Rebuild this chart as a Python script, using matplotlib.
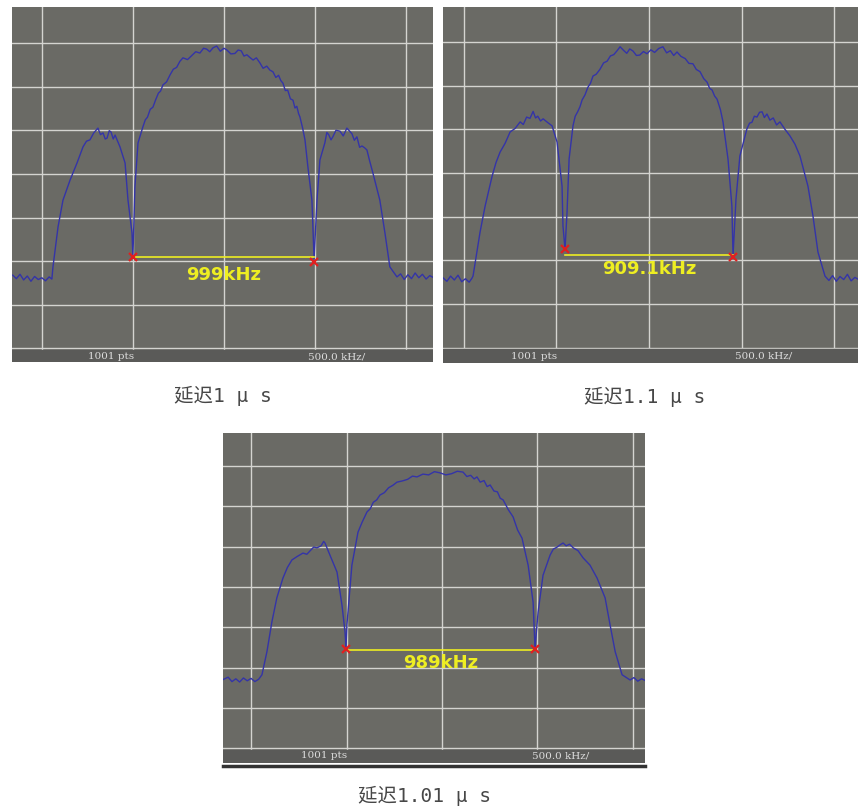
import matplotlib.pyplot as plt

# spectrum traces, frequency offset (kHz) vs level (dB)
tl_freq = [-1160, -1140, -1120, -1100, -1080, -1060, -1040, -1020, -1000, -980,
           -960, -945, -939, -911, -884, -845, -807, -774, -755, -736,
           -715, -692, -678, -664, -652, -642, -630, -620, -608, -598,
           -585, -571, -543, -527, -505, -500, -489, -472, -445, -432,
           -420, -405, -390, -375, -360, -348, -335, -315, -296, -278,
           -260, -242, -225, -200, -180, -155, -132, -112, -95, -78,
           -60, -40, -20, 0, 16, 38, 60, 78, 95, 110,
           126, 142, 160, 178, 198, 215, 235, 252, 269, 285,
           300, 312, 324, 337, 350, 365, 379, 390, 400, 410,
           417, 432, 445, 461, 483, 495, 511, 527, 554, 565,
           575, 588, 598, 615, 637, 655, 675, 690, 703, 716,
           730, 745, 758, 772, 785, 800, 818, 856, 884, 911,
           950, 970, 990, 1010, 1030, 1050, 1070, 1090, 1110, 1130,
           1148]
tl_level = [-63.2, -64.0, -63.0, -64.3, -63.4, -64.6, -63.5, -64.2, -63.8, -64.5,
            -63.6, -64.1, -61.3, -52.1, -46.0, -41.4, -37.5, -33.8, -32.5, -32.2,
            -30.6, -29.5, -31.0, -30.6, -32.0, -31.8, -30.1, -30.4, -32.0, -31.1,
            -32.4, -33.8, -37.5, -46.0, -53.5, -59.0, -43.0, -32.9, -29.2, -27.6,
            -27.0, -25.2, -24.7, -23.0, -21.5, -21.0, -19.6, -18.9, -17.3, -16.0,
            -15.6, -14.2, -13.4, -13.8, -13.0, -12.0, -12.3, -11.2, -11.4, -12.0,
            -11.1, -10.7, -11.9, -11.2, -11.6, -12.5, -12.4, -11.6, -11.8, -13.0,
            -12.7, -13.3, -13.9, -13.4, -14.6, -15.8, -15.3, -16.2, -16.6, -17.9,
            -17.4, -18.6, -19.2, -20.9, -20.8, -22.8, -23.1, -24.9, -24.5, -26.2,
            -26.9, -29.5, -32.2, -38.4, -46.0, -59.5, -46.0, -36.8, -32.9, -30.5,
            -31.0, -32.2, -31.5, -30.0, -30.2, -31.3, -29.5, -30.2, -30.8, -32.3,
            -31.5, -33.9, -33.6, -34.0, -34.5, -37.0, -39.8, -46.0, -53.5, -61.3,
            -63.6, -62.9, -64.2, -63.1, -64.0, -62.7, -63.8, -63.0, -64.1, -63.3,
            -63.7]

tr_freq = [-1111, -1090, -1070, -1050, -1030, -1010, -990, -970, -955, -949,
           -911, -884, -846, -825, -803, -776, -749, -722, -695, -678,
           -660, -642, -625, -612, -600, -585, -571, -548, -523, -496,
           -469, -464, -453, -442, -431, -410, -398, -385, -372, -361,
           -345, -330, -316, -302, -285, -265, -245, -226, -208, -190,
           -172, -156, -138, -120, -104, -86, -68, -50, -30, -11,
           10, 30, 52, 75, 95, 115, 133, 151, 172, 195,
           215, 237, 255, 275, 295, 313, 327, 340, 354, 367,
           385, 399, 426, 447, 453, 469, 490, 528, 542, 555,
           568, 582, 596, 610, 622, 636, 652, 670, 688, 706,
           733, 760, 787, 814, 857, 884, 911, 949, 970, 990,
           1010, 1030, 1050, 1070, 1090, 1110, 1127]
tr_level = [-64.0, -64.8, -63.6, -64.5, -63.4, -64.9, -64.2, -65.0, -64.1, -63.6,
            -53.5, -47.6, -40.7, -37.6, -35.2, -33.2, -30.6, -29.8, -28.3, -28.9,
            -27.2, -27.5, -25.9, -27.4, -27.0, -28.1, -27.6, -28.4, -29.2, -32.9,
            -43.0, -52.1, -57.5, -48.9, -36.8, -29.2, -27.0, -26.0, -24.8, -23.3,
            -22.1, -20.4, -19.5, -17.8, -17.4, -16.3, -14.8, -14.4, -13.2, -12.9,
            -12.0, -11.1, -11.9, -12.6, -11.6, -12.1, -13.1, -13.0, -12.2, -12.7,
            -11.8, -12.4, -11.5, -11.1, -12.5, -12.0, -13.1, -12.3, -13.3, -13.8,
            -14.9, -15.0, -16.3, -16.8, -18.4, -19.2, -20.6, -21.0, -22.4, -23.1,
            -25.5, -28.3, -36.8, -47.6, -59.0, -46.0, -36.1, -29.9, -28.6, -28.4,
            -27.0, -27.2, -26.1, -26.0, -27.3, -26.5, -27.9, -27.4, -29.0, -28.3,
            -30.0, -31.5, -33.4, -36.1, -43.0, -49.8, -58.1, -63.6, -64.6, -63.5,
            -64.8, -63.7, -64.4, -63.2, -64.7, -63.9, -64.3]

bt_freq = [-1147, -1120, -1100, -1080, -1060, -1040, -1020, -1000, -980, -960,
           -943, -917, -891, -865, -833, -810, -786, -757, -728, -708,
           -690, -672, -655, -633, -620, -613, -587, -550, -524, -508,
           -503, -498, -472, -440, -418, -393, -376, -360, -342, -325,
           -302, -280, -258, -236, -208, -180, -155, -131, -100, -70,
           -40, -10, 20, 50, 80, 110, 130, 150, 168, 183,
           200, 220, 236, 252, 272, 290, 305, 320, 348, 372,
           396, 419, 451, 477, 487, 503, 529, 566, 583, 600,
           617, 634, 650, 668, 687, 712, 739, 775, 812, 854,
           880, 907, 943, 985, 1005, 1025, 1045, 1063]
bt_level = [-63.0, -62.4, -63.5, -62.8, -63.6, -62.6, -63.3, -62.7, -63.5, -62.9,
            -61.8, -56.1, -48.7, -42.7, -37.8, -35.2, -33.3, -32.4, -31.6, -31.9,
            -31.0, -30.1, -30.3, -29.8, -28.7, -29.1, -32.1, -36.3, -44.5, -51.2,
            -55.3, -49.4, -34.6, -26.4, -23.9, -21.4, -20.6, -19.0, -18.4, -17.2,
            -16.6, -15.4, -14.8, -14.0, -13.7, -13.3, -12.5, -12.7, -12.0, -12.2,
            -11.4, -11.7, -12.2, -11.9, -11.3, -11.5, -12.6, -12.3, -13.2, -12.7,
            -14.0, -13.6, -15.1, -14.7, -16.2, -16.4, -18.0, -18.4, -20.9, -22.6,
            -25.9, -27.9, -34.6, -43.8, -55.3, -46.3, -37.1, -32.1, -30.6, -30.2,
            -29.6, -29.1, -29.8, -29.4, -30.3, -31.0, -32.8, -34.6, -37.8, -42.7,
            -49.4, -56.1, -61.8, -63.1, -62.5, -63.4, -62.8, -63.2]

# markers at the two nulls, readout text and captions
tl_nulls = [(-500, -59.0), (495, -60.2)]
tr_nulls = [(-453, -57.5), (453, -59.3)]
bt_nulls = [(-503, -55.3), (487, -55.3)]
readouts = ["999kHz", "909.1kHz", "989kHz"]
captions = ["延迟1 μ s", "延迟1.1 μ s", "延迟1.01 μ s"]

BG = "#6a6a65"
STRIP = "#5a5a58"
GRID = "#d4d4d0"
TRACE = "#3434a8"
YEL = "#eeee22"


def draw_panel(ax, freq, level, nulls, readout, xlim, ylim, line_y, text_y):
    ax.set_facecolor(BG)
    ax.set_xlim(xlim)
    ax.set_ylim(ylim)
    ax.set_xticks([-1000, -500, 0, 500, 1000])
    ax.set_yticks([-10, -20, -30, -40, -50, -60, -70, -80])
    ax.tick_params(length=0, labelbottom=False, labelleft=False)
    ax.grid(True, color=GRID, lw=1.0)
    ax.set_axisbelow(True)
    for s in ax.spines.values():
        s.set_visible(False)
    ax.axhspan(ylim[0], -80.4, color=STRIP, zorder=1)
    ax.text(-620, -81.9, "1001 pts", color="#dcdcdc", fontsize=7.5,
            family="DejaVu Serif", ha="center", va="center", zorder=3)
    ax.text(620, -81.9, "500.0 kHz/", color="#dcdcdc", fontsize=7.5,
            family="DejaVu Serif", ha="center", va="center", zorder=3)
    ax.plot(freq, level, color=TRACE, lw=1.0, zorder=4)
    (x1, y1), (x2, y2) = nulls
    ax.plot([x1, x2], [line_y, line_y], color=YEL, lw=1.2, zorder=5)
    ax.plot([x1, x2], [y1, y2], ls="none", marker="x", color="#e02020",
            ms=6, mew=1.6, zorder=6)
    ax.text((x1 + x2) / 2, text_y, readout, color=YEL, fontsize=13,
            fontweight="bold", ha="center", va="center", zorder=6)


fig = plt.figure(figsize=(8.58, 8.09), dpi=100)
W, H = 858, 809

ax1 = fig.add_axes([12 / W, (H - 362) / H, 421 / W, 355 / H])
draw_panel(ax1, tl_freq, tl_level, tl_nulls, readouts[0],
           (-1164, 1148), (-83.1, -1.75), -59.0, -63.1)

ax2 = fig.add_axes([443 / W, (H - 363) / H, 415 / W, 356 / H])
draw_panel(ax2, tr_freq, tr_level, tr_nulls, readouts[1],
           (-1111, 1127), (-83.5, -2.0), -58.8, -62.0)

ax3 = fig.add_axes([223 / W, (H - 763) / H, 422 / W, 330 / H])
draw_panel(ax3, bt_freq, bt_level, bt_nulls, readouts[2],
           (-1147, 1063), (-83.7, -1.8), -55.6, -58.9)
# dark rule under the lower screen
fig.add_artist(plt.Line2D([223 / W, 645 / W], [(H - 766) / H, (H - 766) / H],
                          color="#333333", lw=2.5))

cap_font = ["DejaVu Sans Mono", "Noto Sans CJK SC"]
fig.text(223 / W, 1 - 396 / H, captions[0], family=cap_font, fontsize=14,
         color="#474747", ha="center", va="center")
fig.text(645 / W, 1 - 397 / H, captions[1], family=cap_font, fontsize=14,
         color="#474747", ha="center", va="center")
fig.text(425 / W, 1 - 796 / H, captions[2], family=cap_font, fontsize=14,
         color="#474747", ha="center", va="center")

fig.savefig("out.png", dpi=100, facecolor="white")
